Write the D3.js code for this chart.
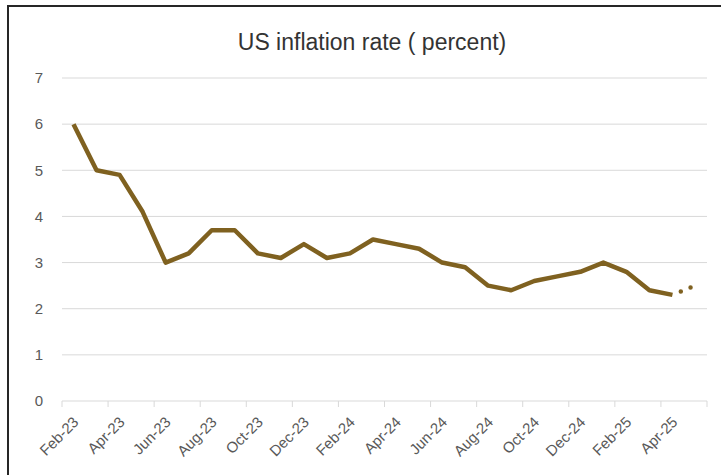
<!DOCTYPE html>
<html>
<head>
<meta charset="utf-8">
<script src="https://cdn.jsdelivr.net/npm/d3@7"></script>
<style>
  html, body { margin: 0; padding: 0; background: #fff; }
  svg { display: block; font-family: "Liberation Sans", Arial, sans-serif; }
</style>
</head>
<body>
<svg id="chart" width="721" height="475"></svg>
<script>
// ---- data ----
const months = ["Feb-23","Mar-23","Apr-23","May-23","Jun-23","Jul-23","Aug-23","Sep-23","Oct-23","Nov-23","Dec-23","Jan-24",
                "Feb-24","Mar-24","Apr-24","May-24","Jun-24","Jul-24","Aug-24","Sep-24","Oct-24","Nov-24","Dec-24","Jan-25",
                "Feb-25","Mar-25","Apr-25","May-25"];
const inflation = [6.0,5.0,4.9,4.1,3.0,3.2,3.7,3.7,3.2,3.1,3.4,3.1,
                   3.2,3.5,3.4,3.3,3.0,2.9,2.5,2.4,2.6,2.7,2.8,3.0,
                   2.8,2.4,2.3,2.5];
const solidCount = 27;               // Feb-23 .. Apr-25 solid, last segment dotted
const yTicks = [0,1,2,3,4,5,6,7];
const xLabels = ["Feb-23","Apr-23","Jun-23","Aug-23","Oct-23","Dec-23","Feb-24","Apr-24","Jun-24","Aug-24","Oct-24","Dec-24","Feb-25","Apr-25"];
const title = "US inflation rate ( percent)";

(function () {
  const svg = d3.select("#chart");
  const pLeft = 62, pRight = 707, pTop = 78, pBottom = 401;
  const x = d3.scaleBand().domain(months).range([pLeft, pRight]).padding(0);
  const y = d3.scaleLinear().domain([0, 7]).range([pBottom, pTop]);
  const lineColor = "#7F6120";

  // border
  svg.append("rect").attr("x", 8).attr("y", 6).attr("width", 740).attr("height", 500)
    .attr("fill", "none").attr("stroke", "#262626").attr("stroke-width", 2);

  // title
  svg.append("text").attr("x", 372).attr("y", 50).attr("text-anchor", "middle")
    .attr("font-size", 23).attr("fill", "#333333").text(title);

  // gridlines
  svg.append("g").selectAll("line").data(yTicks.filter(d => d > 0)).join("line")
    .attr("x1", pLeft).attr("x2", pRight)
    .attr("y1", d => y(d)).attr("y2", d => y(d))
    .attr("stroke", "#d9d9d9").attr("stroke-width", 1);

  // y axis labels
  svg.append("g").selectAll("text").data(yTicks).join("text")
    .attr("x", 43).attr("y", d => y(d)).attr("dy", "0.35em")
    .attr("text-anchor", "end").attr("font-size", 15).attr("fill", "#595959")
    .text(d => d);

  // x axis
  const xAxis = svg.append("g");
  xAxis.append("line").attr("x1", pLeft).attr("x2", pRight).attr("y1", pBottom).attr("y2", pBottom)
    .attr("stroke", "#d9d9d9").attr("stroke-width", 1);
  const tickPos = months.filter((m, i) => i % 2 === 0).map(m => x(m)).concat([pRight]);
  xAxis.selectAll("line.tick").data(tickPos).join("line").attr("class", "tick")
    .attr("x1", d => d).attr("x2", d => d).attr("y1", pBottom).attr("y2", pBottom + 6)
    .attr("stroke", "#d9d9d9").attr("stroke-width", 1);
  xAxis.selectAll("text").data(xLabels).join("text")
    .attr("transform", d => `translate(${x(d) + x.bandwidth() / 2 + 6},${pBottom + 22}) rotate(-45)`)
    .attr("text-anchor", "end").attr("font-size", 15).attr("fill", "#595959")
    .text(d => d);

  // line
  const pts = months.map((m, i) => [x(m) + x.bandwidth() / 2, y(inflation[i])]);
  const line = d3.line();
  svg.append("path").attr("d", line(pts.slice(0, solidCount)))
    .attr("fill", "none").attr("stroke", lineColor).attr("stroke-width", 4.5)
    .attr("stroke-linejoin", "round").attr("stroke-linecap", "butt");
  svg.append("path").attr("d", line(pts.slice(solidCount - 1)))
    .attr("fill", "none").attr("stroke", lineColor).attr("stroke-width", 4.5)
    .attr("stroke-linecap", "round").attr("stroke-dasharray", "0 10.5").attr("stroke-dashoffset", -9);
})();
</script>
</body>
</html>
